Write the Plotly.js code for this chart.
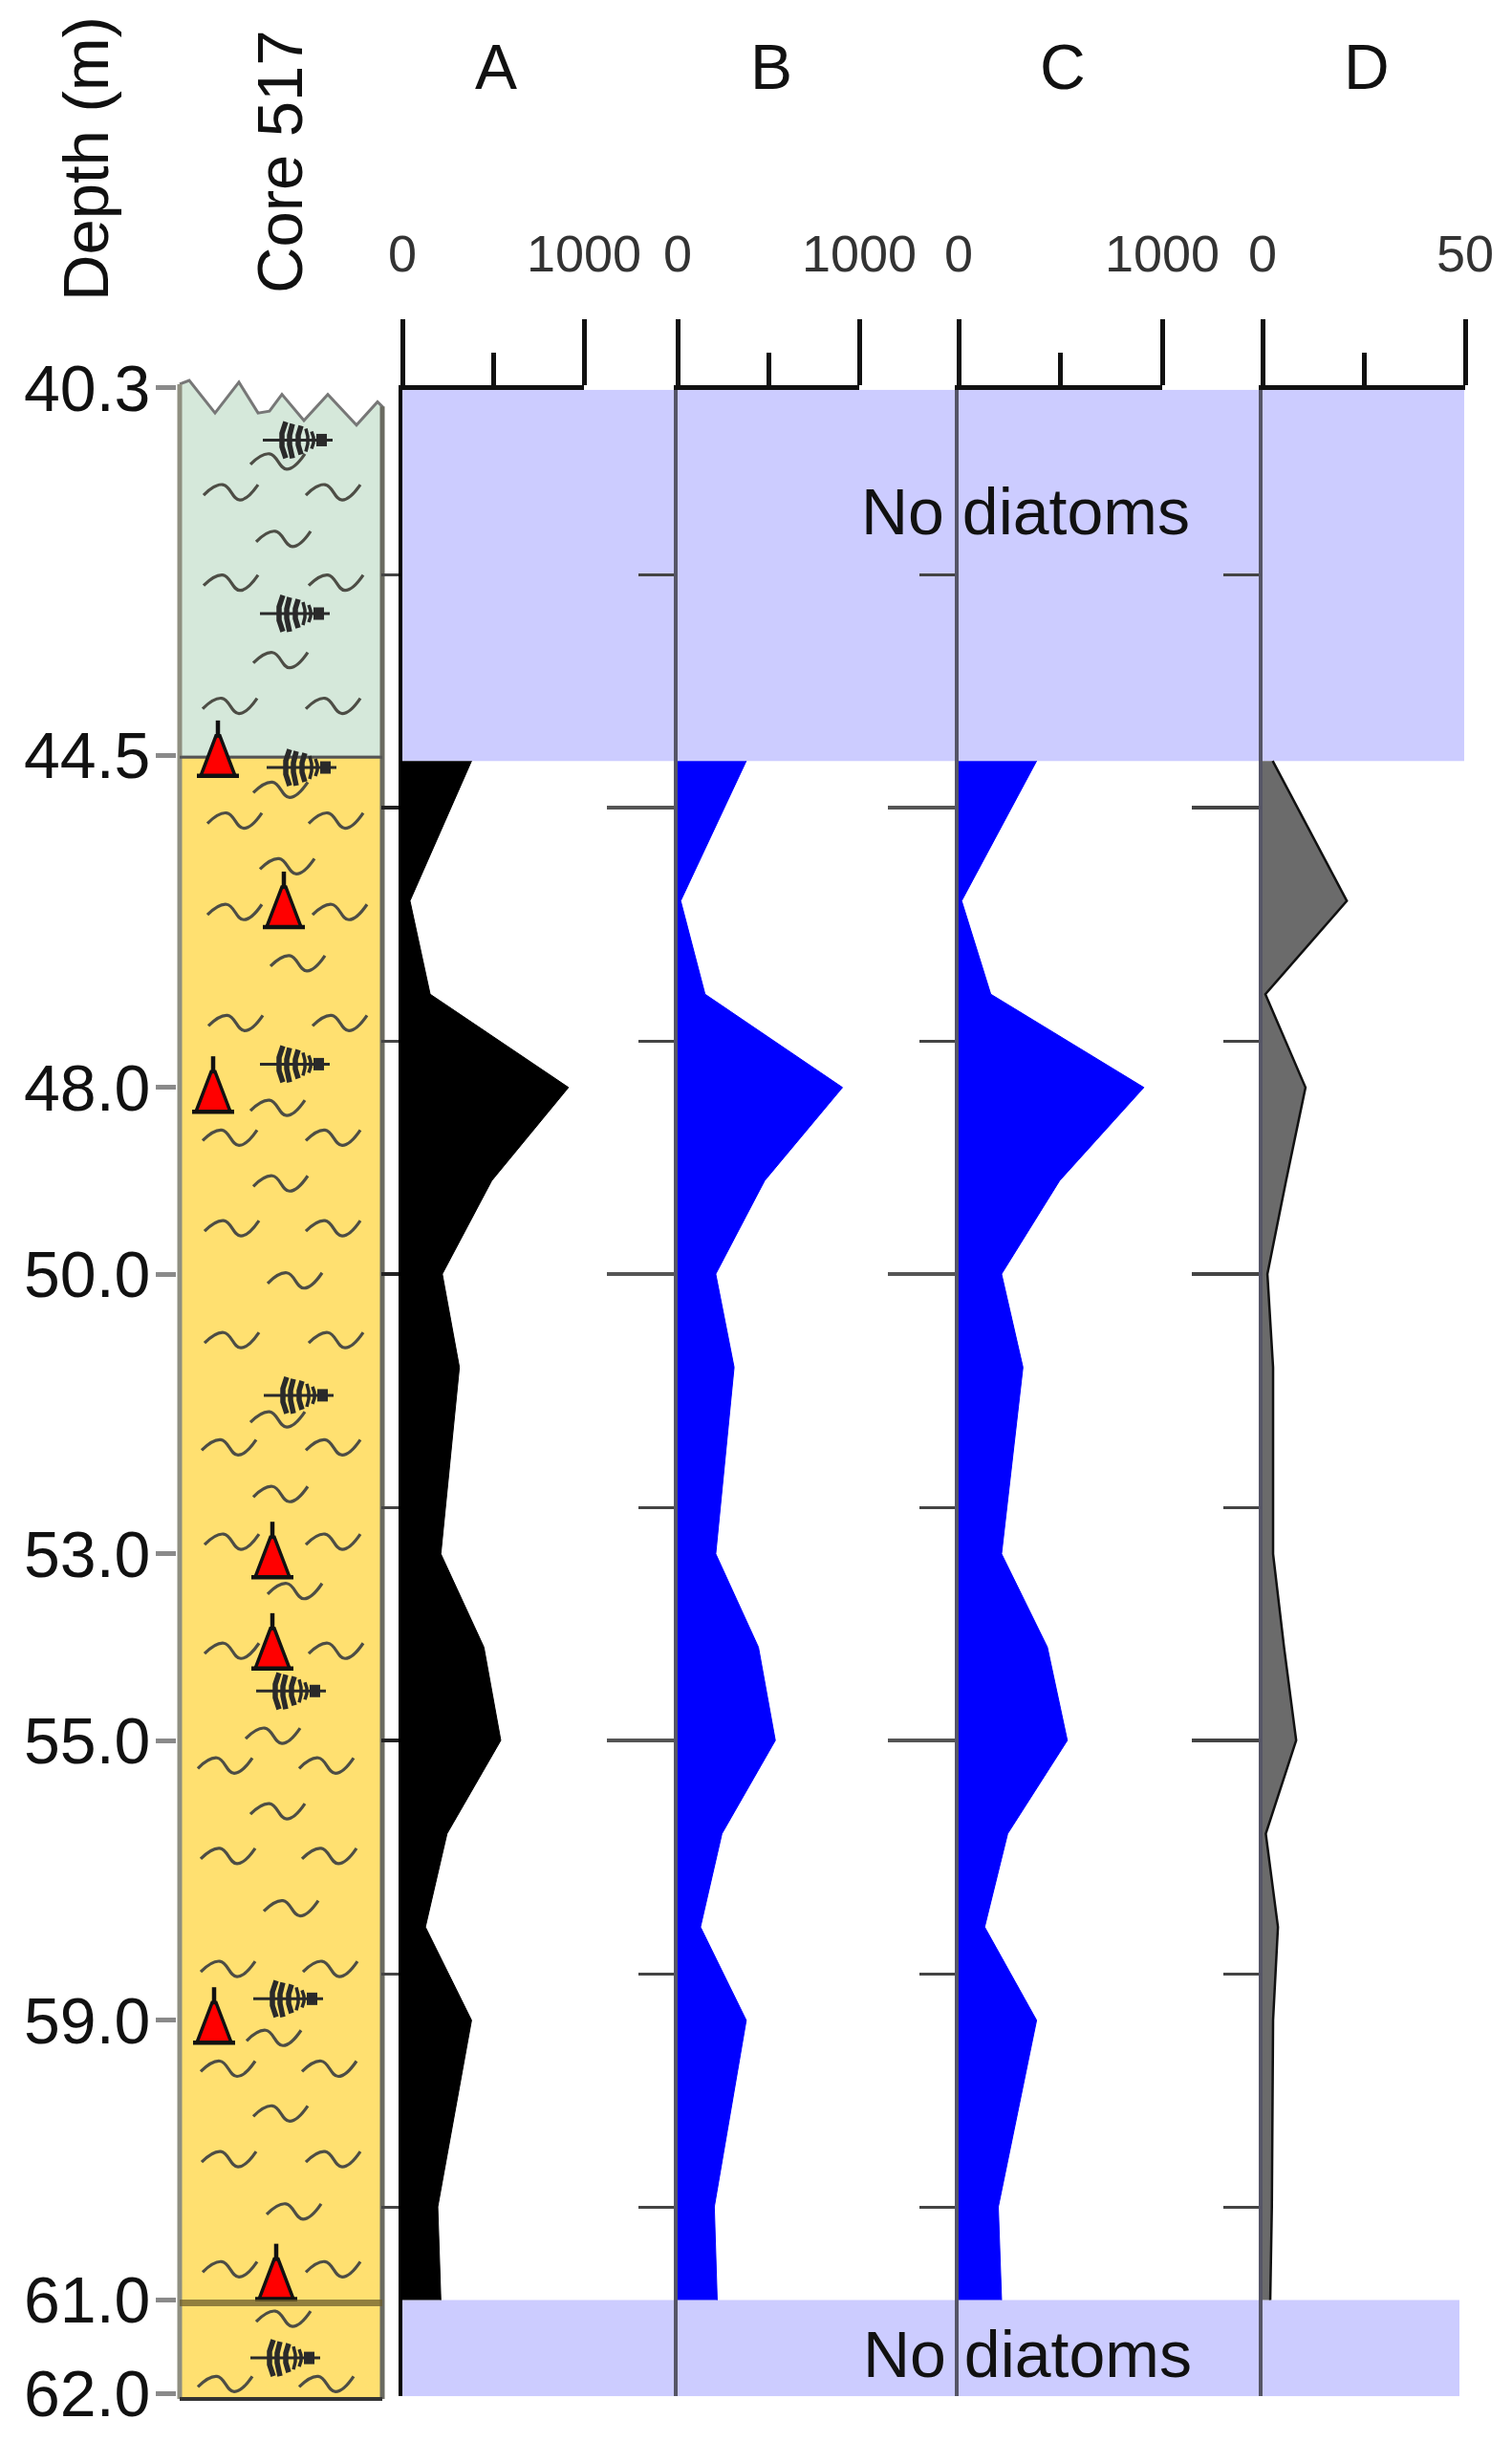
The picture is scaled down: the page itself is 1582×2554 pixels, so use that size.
<!DOCTYPE html>
<html>
<head>
<meta charset="utf-8">
<script src="https://cdn.plot.ly/plotly-3.0.1.min.js"></script>
<style>
  html, body { margin: 0; padding: 0; background: #fff; }
</style>
</head>
<body>
<div id="chart" style="width:1582px;height:2554px"></div>
<script>
// data
const depths = [44.5, 46, 47, 48, 49, 50, 51, 53, 54, 55, 56, 57, 58, 60, 61];
const seriesA = [381, 42, 153, 915, 492, 220, 314, 212, 449, 542, 246, 127, 381, 195, 212];
const seriesB = [378, 17, 151, 908, 479, 210, 311, 210, 445, 538, 244, 126, 378, 202, 218];
const seriesC = [383, 15, 158, 910, 496, 211, 316, 211, 436, 534, 241, 128, 383, 195, 211];
const seriesD = [2.5, 20.8, 0.7, 10.6, 5.8, 1.2, 2.6, 2.6, 5.3, 8.3, 0.8, 3.8, 2.6, 2.3, 1.9];

const depthTickVals = [40.5, 44.44, 48, 50, 53, 55, 58, 61, 62];
const depthTickText = ['40.3', '44.5', '48.0', '50.0', '53.0', '55.0', '59.0', '61.0', '62.0'];
const majorDepthTicks = [45, 50, 55];
const minorDepthTicks = [42.5, 47.5, 52.5, 57.5, 60];

const noDiatomTop = [40.52, 44.5];
const noDiatomBottom = [61, 62.03];
const unitBoundary = 44.46;
const sectionBreak = 61.03;
const coreBase = 62.06;

// core top edge (across-core position, depth)
const edgeX = [0, 10, 37, 62, 82, 94, 107, 130, 155, 185, 207, 212];
const edgeDepth = [40.46, 40.42, 40.77, 40.44, 40.77, 40.75, 40.57, 40.85, 40.57, 40.9, 40.65, 40.7];

// lithology symbols in the core column
const squiggleX = [74, 25, 132, 80, 25, 135, 77, 24, 132, 77, 29, 135, 84, 29, 139, 95, 30, 139, 74, 24, 132,
  77, 26, 132, 92, 26, 135, 74, 23, 132, 77, 26, 132, 92, 26, 135, 69, 19, 125, 74, 22, 128, 88, 22, 129, 70,
  22, 128, 77, 23, 132, 91, 24, 132, 80, 19, 125];
const squiggleDepth = [41.32, 41.65, 41.65, 42.15, 42.62, 42.62, 43.45, 43.94, 43.94, 44.84, 45.17, 45.17, 45.66,
  46.15, 46.15, 46.7, 47.34, 47.34, 48.25, 48.57, 48.57, 49.06, 49.54, 49.54, 50.1, 50.74, 50.74, 51.59, 51.89,
  51.89, 52.39, 52.9, 52.9, 53.43, 54.07, 54.07, 54.98, 55.3, 55.3, 55.79, 56.27, 56.27, 56.83, 57.48, 57.48,
  58.22, 58.55, 58.55, 59.03, 59.52, 59.52, 60.08, 60.7, 60.7, 61.23, 61.93, 61.93];
const diatomX = [87, 84, 91, 84, 88, 80, 77, 74];
const diatomDepth = [41.06, 42.92, 44.57, 47.75, 51.3, 54.47, 57.77, 61.62];
const triangleX = [40, 109, 35, 97, 97, 36, 101];
const triangleDepth = [44.66, 46.28, 48.26, 53.25, 54.23, 58.24, 60.99];

const W = 1582, H = 2554;
const FONT = 'Liberation Sans, Arial, sans-serif';
const PX_PER_M = 97.6;
const pxOfDepth = (d) => 1333 + (d - 50) * PX_PER_M;
const xDom = (a, b) => [a / W, b / W];
const yDom = (top, bottom) => [1 - bottom / H, 1 - top / H];

// repeat a small symbol outline (offsets in px) at each position
function stamp(xs, ds, tmpl) {
  const x = [], y = [];
  xs.forEach((x0, i) => {
    tmpl.forEach((p) => {
      x.push(p ? x0 + p[0] : null);
      y.push(p ? ds[i] + p[1] / PX_PER_M : null);
    });
    x.push(null); y.push(null);
  });
  return { x, y };
}

const squiggle = [[0, 0], [20, -11], [38, 5], [57, -11]];
const diatomStem = [[0, 0], [73, 0]];
const diatomRibs = [[24, -19], [20, -7], [20, 7], [24, 19], null, [31, -17], [28, -5], [28, 5], [31, 19], null,
  [40, -15], [37, -5], [37, 5], [40, 15]];
const diatomArcs = [[45, -12], [47, -4], [47, 4], [45, 12], null, [51, -9], [53, -3], [53, 3], [51, 9]];
const diatomHead = [[56, 0], [67, 0]];
const triBody = [[-18, 0], [18, 0], [2, -42], [-2, -42], [-18, 0]];
const triMarks = [[-22, 0], [22, 0], null, [0, -40], [0, -58]];

const line = (color, width, extra) => ({ line: { color, width, ...(extra || {}) } });
const coreTrace = (o) => ({ type: 'scatter', mode: 'lines', xaxis: 'x', yaxis: 'y', hoverinfo: 'skip', ...o });

const traces = [
  coreTrace({
    x: edgeX.concat([212, 0, 0]),
    y: edgeDepth.concat([unitBoundary, unitBoundary, edgeDepth[0]]),
    fill: 'toself', fillcolor: '#d5e8da', ...line('#777777', 3),
  }),
  coreTrace({
    x: [0, 212, 212, 0, 0],
    y: [unitBoundary, unitBoundary, coreBase, coreBase, unitBoundary],
    fill: 'toself', fillcolor: '#ffe070', line: { width: 0 },
  }),
  coreTrace({ x: [0, 0], y: [edgeDepth[0], coreBase], ...line('#8f8f80', 5) }),
  coreTrace({ x: [212, 212], y: [edgeDepth[11], coreBase], ...line('#6a6a60', 5) }),
  coreTrace({ x: [0, 212], y: [coreBase, coreBase], ...line('#333333', 4) }),
  coreTrace({ x: [0, 212], y: [unitBoundary, unitBoundary], ...line('#555555', 3) }),
  coreTrace({ ...stamp(squiggleX, squiggleDepth, squiggle), ...line('#4d4d45', 3.2, { shape: 'spline', smoothing: 1.3 }) }),
  coreTrace({ ...stamp(diatomX, diatomDepth, diatomStem), ...line('#2a2a2a', 3) }),
  coreTrace({ ...stamp(diatomX, diatomDepth, diatomRibs), ...line('#2a2a2a', 5.5) }),
  coreTrace({ ...stamp(diatomX, diatomDepth, diatomArcs), ...line('#2a2a2a', 3.5) }),
  coreTrace({ ...stamp(diatomX, diatomDepth, diatomHead), ...line('#2a2a2a', 13) }),
  coreTrace({ ...stamp(triangleX, triangleDepth, triBody), fill: 'toself', fillcolor: '#ff0000', ...line('#111111', 3.5) }),
  coreTrace({ ...stamp(triangleX, triangleDepth, triMarks), ...line('#111111', 4.5) }),
  coreTrace({ x: [0, 212], y: [sectionBreak, sectionBreak], ...line('rgba(110,95,45,0.75)', 7) }),
];

// chart panels: label, values, scale, pixel span, colours
const panels = [
  { name: 'A', vals: seriesA, max: 1000, x0: 421, x1: 611, fill: '#000000', edge: '#000000', edgeW: 1, axis: '#000000', tickLen: 18, tickCol: '#222222' },
  { name: 'B', vals: seriesB, max: 1000, x0: 709, x1: 899, fill: '#0000ff', edge: '#0000ff', edgeW: 1, axis: '#555566', tickLen: 70, tickCol: '#555555' },
  { name: 'C', vals: seriesC, max: 1000, x0: 1003, x1: 1216, fill: '#0000ff', edge: '#0000ff', edgeW: 1, axis: '#555566', tickLen: 70, tickCol: '#555555' },
  { name: 'D', vals: seriesD, max: 50, x0: 1321, x1: 1533, fill: '#6b6b6b', edge: '#111111', edgeW: 2.5, axis: '#555566', tickLen: 70, tickCol: '#444444' },
];

const layout = {
  width: W, height: H,
  margin: { l: 0, r: 0, t: 0, b: 0 },
  paper_bgcolor: '#ffffff', plot_bgcolor: 'rgba(0,0,0,0)',
  showlegend: false,
  font: { family: FONT, color: '#111111' },
  xaxis: { domain: xDom(185, 403), range: [-3, 215], visible: false, fixedrange: true },
  yaxis: {
    domain: yDom(pxOfDepth(40), pxOfDepth(62.1)), range: [62.1, 40], anchor: 'x',
    tickmode: 'array', tickvals: depthTickVals, ticktext: depthTickText,
    ticks: 'outside', ticklen: 21, tickwidth: 5, tickcolor: '#8a8a8a',
    ticklabelstandoff: -8,
    tickfont: { family: FONT, size: 68, color: '#111111' },
    showgrid: false, zeroline: false, showline: false, fixedrange: true,
  },
  shapes: [
    { type: 'rect', layer: 'below', xref: 'paper', yref: 'y2', x0: 419 / W, x1: 1532 / W, y0: noDiatomTop[0], y1: noDiatomTop[1], fillcolor: '#ccccff', line: { width: 0 } },
    { type: 'rect', layer: 'below', xref: 'paper', yref: 'y2', x0: 419 / W, x1: 1527 / W, y0: noDiatomBottom[0], y1: noDiatomBottom[1], fillcolor: '#ccccff', line: { width: 0 } },
  ],
  annotations: [
    { text: 'Depth (m)', x: 89 / W, y: 1 - 166 / H, textangle: -90, size: 67 },
    { text: 'Core 517', x: 292 / W, y: 1 - 169 / H, textangle: -90, size: 67 },
    { text: 'No diatoms', x: 1073 / W, y: 1 - 535 / H, size: 68 },
    { text: 'No diatoms', x: 1075 / W, y: 1 - 2463 / H, size: 68 },
    { text: 'A', x: 519 / W, y: 1 - 70 / H, size: 66 },
    { text: 'B', x: 807 / W, y: 1 - 70 / H, size: 66 },
    { text: 'C', x: 1112 / W, y: 1 - 70 / H, size: 66 },
    { text: 'D', x: 1430 / W, y: 1 - 70 / H, size: 66 },
  ].map((a) => ({
    text: a.text, x: a.x, y: a.y, textangle: a.textangle || 0,
    xref: 'paper', yref: 'paper', xanchor: 'center', yanchor: 'middle', showarrow: false,
    font: { family: FONT, size: a.size, color: '#111111' },
  })),
};

panels.forEach((p, i) => {
  const n = i + 2;
  traces.push({
    type: 'scatter', mode: 'lines', xaxis: 'x' + n, yaxis: 'y' + n, hoverinfo: 'skip',
    x: p.vals, y: depths, fill: 'tozerox', fillcolor: p.fill, ...line(p.edge, p.edgeW),
  });
  layout['xaxis' + n] = {
    domain: xDom(p.x0, p.x1), range: [0, p.max], anchor: 'y' + n, side: 'top',
    tickmode: 'array', tickvals: [0, p.max], ticktext: ['0', String(p.max)],
    ticks: 'outside', ticklen: 69, tickwidth: 5, tickcolor: '#111111',
    minor: { tickmode: 'array', tickvals: [p.max / 2], ticks: 'outside', ticklen: 34, tickwidth: 5, tickcolor: '#111111', showgrid: false },
    ticklabelstandoff: 28,
    tickfont: { family: FONT, size: 54, color: '#333333' },
    showline: true, linecolor: '#111111', linewidth: 5,
    showgrid: false, zeroline: false, fixedrange: true,
  };
  layout['yaxis' + n] = {
    domain: yDom(pxOfDepth(40.52), pxOfDepth(62.03)), range: [62.03, 40.52], anchor: 'x' + n, side: 'left',
    tickmode: 'array', tickvals: majorDepthTicks, showticklabels: false,
    ticks: 'outside', ticklen: p.tickLen, tickwidth: 4, tickcolor: p.tickCol,
    minor: { tickmode: 'array', tickvals: minorDepthTicks, ticks: 'outside', ticklen: p.tickLen === 18 ? 18 : 37, tickwidth: 3, tickcolor: '#444444', showgrid: false },
    showline: true, linecolor: p.axis, linewidth: 4,
    showgrid: false, zeroline: false, fixedrange: true,
  };
});

Plotly.newPlot('chart', traces, layout, { displayModeBar: false, staticPlot: true });
</script>
</body>
</html>
